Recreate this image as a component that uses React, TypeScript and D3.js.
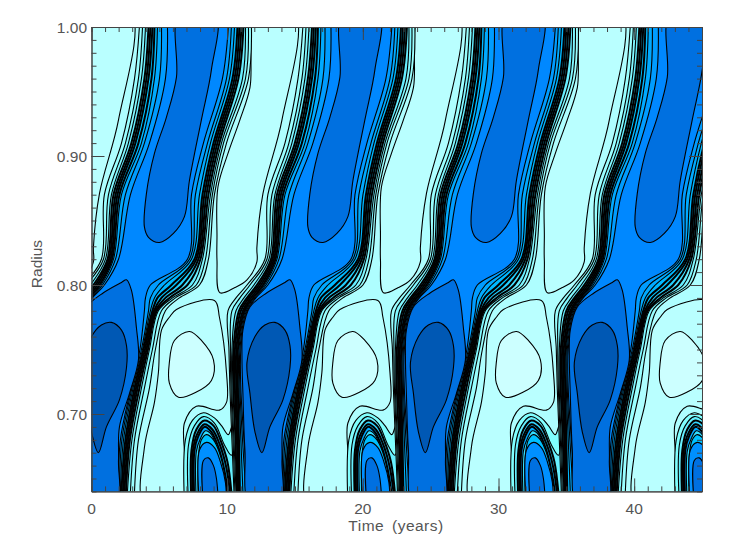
import React, { useEffect, useRef } from "react";
import * as d3 from "d3";

type Pt = [number, number];

// start of each 12-year cycle (years)
const cycleStarts = [-13.38, -1.33, 10.72, 22.77, 34.85];

const frontRadii = [0.64, 0.68, 0.72, 0.75, 0.78, 0.79, 0.8, 0.82, 0.87, 0.91, 0.96, 1.0];

// contour crossing times per radius (outermost level first), years after cycle start
const leftFront = [
  [-0.22, -0.15, -0.07, 0, 0.07, 0.15, 0.22, 0.44, 0.66, 0.81],
  [-0.37, -0.29, -0.22, -0.11, 0, 0.07, 0.15, 0.29, 0.41, 0.52],
  [-0.52, -0.44, -0.37, -0.26, -0.15, -0.04, 0.07, 0.15, 0.22, 0.29],
  [-0.59, -0.48, -0.37, -0.26, -0.15, -0.04, 0.07, 0.15, 0.22, 0.29],
  [-0.66, -0.37, -0.07, 0.15, 0.29, 0.44, 0.55, 0.63, 0.7, 0.77],
  [-0.07, 0.22, 0.52, 0.74, 0.88, 1.03, 1.18, 1.25, 1.33, 1.4],
  [0.74, 0.96, 1.25, 1.47, 1.62, 1.77, 1.92, 2.03, 2.14, 2.28],
  [2.06, 2.21, 2.36, 2.51, 2.62, 2.73, 2.84, 2.95, 3.1, 3.32],
  [2.28, 2.58, 2.8, 2.95, 3.1, 3.24, 3.39, 3.54, 3.83, 4.2],
  [3.54, 3.83, 4.05, 4.27, 4.42, 4.57, 4.79, 5.01, 5.23, 5.6],
  [4.5, 4.79, 5.01, 5.23, 5.38, 5.53, 5.75, 5.97, 6.34, 6.78],
  [4.86, 5.09, 5.31, 5.53, 5.67, 5.82, 5.97, 6.19, 6.49, 6.93],
];

const rightFront = [
  [4.5, 4.2, 3.98, 3.87, 3.76, 3.65, 3.54, 3.46, 3.39, 3.32],
  [4.79, 4.5, 4.31, 4.16, 4.05, 3.94, 3.83, 3.69, 3.57, 3.46],
  [5.6, 5.23, 5.01, 4.86, 4.72, 4.61, 4.5, 4.39, 4.31, 4.24],
  [6.04, 5.82, 5.6, 5.49, 5.38, 5.27, 5.16, 5.09, 5.01, 4.9],
  [6.78, 6.49, 6.26, 6.15, 6.04, 5.93, 5.82, 5.67, 5.53, 5.23],
  [7.81, 7.52, 7.3, 7.08, 6.78, 6.49, 6.19, 5.97, 5.67, 5.31],
  [9.29, 9.06, 8.77, 8.4, 8.03, 7.59, 7.22, 6.71, 6.26, 5.67],
  [9.95, 9.73, 9.51, 9.36, 9.21, 9.06, 8.92, 8.7, 8.55, 8.4],
  [10.39, 10.24, 10.1, 9.95, 9.8, 9.65, 9.51, 9.29, 8.99, 8.7],
  [11.28, 11.06, 10.91, 10.76, 10.61, 10.46, 10.32, 10.1, 9.88, 9.58],
  [12.9, 12.68, 12.46, 12.16, 12.01, 11.87, 11.72, 11.5, 11.28, 10.98],
  [13.12, 12.9, 12.68, 12.53, 12.38, 12.23, 12.09, 11.87, 11.64, 11.42],
];

const levelFills = [
  "#99ffff", "#80f8ff", "#66eeff", "#44e0ff", "#22d0ff",
  "#00c4ff", "#00b8ff", "#00aaff", "#009cff", "#0088ff",
];

// closed contours as [years after cycle start, radius]
const paleTongue: Pt[] = [
  [1.47, 1.01], [0.96, 0.953], [0.22, 0.928], [-0.66, 0.902], [-1.4, 0.876], [-1.47, 0.837],
  [-1.47, 0.819], [-1.25, 0.794], [-0.15, 0.798], [0.74, 0.804], [1.47, 0.818], [1.47, 0.829],
  [1.92, 0.871], [3.32, 0.928], [4.27, 1.01],
];
const paleCell: Pt[] = [
  [5.23, 0.63], [5.23, 0.674], [5.97, 0.709], [6.26, 0.732], [6.49, 0.765], [7.07, 0.775],
  [7.59, 0.781], [10.39, 0.788], [10.76, 0.775], [11.28, 0.732], [11.28, 0.709], [10.76, 0.703],
  [9.06, 0.706], [8.18, 0.693], [8.11, 0.63],
];
const paleCore: Pt[] = [
  [8.55, 0.764], [9.43, 0.757], [10.32, 0.742], [10.17, 0.726], [9.06, 0.717],
  [7.74, 0.713], [7.07, 0.724], [7.07, 0.74], [7.44, 0.757],
];
const upperTongue: Pt[] = [
  [7.81, 1.01], [7.59, 0.961], [6.85, 0.93], [5.97, 0.902], [5.38, 0.871], [5.23, 0.845], [5.53, 0.837],
  [6.34, 0.833], [7.37, 0.84], [8.18, 0.853], [8.55, 0.881], [9.43, 0.928], [10.17, 0.967], [10.46, 1.01],
];
const lowerCell: Pt[] = [
  [0.96, 0.63], [0.59, 0.672], [0.44, 0.716], [0.37, 0.744], [0.44, 0.765], [0.96, 0.783], [2.21, 0.794],
  [3.54, 0.802], [3.91, 0.804], [4.27, 0.796], [4.64, 0.767], [4.79, 0.742], [4.13, 0.716], [3.39, 0.69],
  [3.32, 0.664], [3.17, 0.63],
];
const lowerCore: Pt[] = [
  [2.8, 0.771], [3.54, 0.765], [3.91, 0.753], [3.91, 0.736], [3.39, 0.711], [2.43, 0.69],
  [1.84, 0.67], [1.33, 0.686], [0.96, 0.716], [0.74, 0.74], [1.33, 0.76], [2.06, 0.769],
];

// nested arches of the dome at the bottom, outermost first
const domeArches: Pt[][] = [
  [[8.18, 0.63], [8.25, 0.68], [8.77, 0.695], [9.58, 0.701], [10.39, 0.697], [10.91, 0.691], [11.42, 0.684], [11.72, 0.691], [12.01, 0.68], [12.01, 0.63]],
  [[8.48, 0.63], [8.48, 0.676], [8.92, 0.691], [9.58, 0.698], [10.39, 0.693], [11.13, 0.676], [11.64, 0.668], [11.94, 0.676], [12.01, 0.63]],
  [[8.7, 0.63], [8.7, 0.672], [9.06, 0.688], [9.65, 0.695], [10.32, 0.691], [10.83, 0.68], [11.35, 0.663], [11.72, 0.63]],
  [[8.81, 0.63], [8.81, 0.672], [9.14, 0.685], [9.65, 0.692], [10.24, 0.688], [10.76, 0.677], [11.28, 0.658], [11.64, 0.63]],
  [[8.92, 0.63], [8.92, 0.672], [9.21, 0.683], [9.65, 0.69], [10.17, 0.686], [10.69, 0.674], [11.13, 0.656], [11.5, 0.63]],
  [[9.06, 0.63], [9.06, 0.671], [9.36, 0.681], [9.73, 0.687], [10.17, 0.684], [10.61, 0.672], [11.06, 0.655], [11.42, 0.63]],
  [[9.21, 0.63], [9.21, 0.668], [9.43, 0.68], [9.8, 0.684], [10.32, 0.68], [10.76, 0.67], [11.13, 0.654], [11.35, 0.63]],
  [[9.29, 0.63], [9.29, 0.672], [9.8, 0.678], [10.39, 0.674], [10.83, 0.663], [11.2, 0.647], [11.28, 0.63]],
  [[9.58, 0.63], [9.58, 0.664], [9.95, 0.666], [10.32, 0.66], [10.54, 0.65], [10.69, 0.63]],
];
const domeFills = [
  "#80ffff", "#66f0ff", "#33d5ff", "#00bbff", "#00a8ff",
  "#33ddff", "#00c0ff", "#0090ff", "#0070e0",
];

const yMajor = [0.7, 0.8, 0.9, 1.0];
const yMinor = d3.range(64, 101).map((d) => d / 100);
const xMajor = [0, 10, 20, 30, 40];
const xMinor = d3.range(0, 46);

export default function App() {
  const ref = useRef<SVGSVGElement>(null);

  useEffect(() => {
    const svg = d3.select(ref.current);
    svg.selectAll("*").remove();

    const x = d3.scaleLinear().domain([0, 45]).range([91.5, 702]);
    const y = d3.scaleLinear().domain([0.64, 1]).range([491.4, 27]);
    const lineColor = "#000";
    const axisColor = "#444";

    svg.append("defs").append("clipPath").attr("id", "plot")
      .append("rect").attr("x", 91.5).attr("y", 27).attr("width", 610.5).attr("height", 464.4);

    const plot = svg.append("g").attr("clip-path", "url(#plot)");
    plot.append("rect").attr("x", 91.5).attr("y", 27).attr("width", 610.5).attr("height", 464.4).attr("fill", "#aefeff");

    const shape = (pts: Pt[], start: number, closedCurve: boolean) =>
      d3.line<Pt>()
        .x((d) => x(d[0] + start))
        .y((d) => y(d[1]))
        .curve(closedCurve ? d3.curveCatmullRomClosed : d3.curveCatmullRom)(pts) as string;

    const drawClosed = (pts: Pt[], fill: string) => {
      cycleStarts.forEach((s) => {
        plot.append("path").attr("d", shape(pts, s, true)).attr("fill", fill)
          .attr("stroke", lineColor).attr("stroke-width", 1.1);
      });
    };

    drawClosed(paleTongue, "#b9ffff");
    drawClosed(paleCell, "#b9ffff");
    drawClosed(paleCore, "#ccffff");

    domeArches.forEach((arch, i) => {
      cycleStarts.forEach((s) => {
        plot.append("path").attr("d", shape(arch, s, false) + "Z").attr("fill", domeFills[i])
          .attr("stroke", lineColor).attr("stroke-width", i >= 2 && i <= 4 ? 2 : 1.1);
      });
    });

    // filled bands between the left and right front of each level
    levelFills.forEach((fill, k) => {
      const left: Pt[] = frontRadii.map((r, i) => [leftFront[i][k], r]);
      const right: Pt[] = frontRadii.map((r, i) => [rightFront[i][k], r]);
      const width = k >= 3 && k <= 6 ? 2 : 1.1; // the packed lines read as a black band
      cycleStarts.forEach((s) => {
        const a = shape(left, s, false);
        const b = shape([...right].reverse(), s, false);
        plot.append("path").attr("d", a + "L" + b.slice(1) + "Z").attr("fill", fill);
        plot.append("path").attr("d", a).attr("fill", "none").attr("stroke", lineColor).attr("stroke-width", width);
        plot.append("path").attr("d", b).attr("fill", "none").attr("stroke", lineColor).attr("stroke-width", width);
      });
    });

    drawClosed(lowerCell, "#0070e0");
    drawClosed(lowerCore, "#0058b4");
    drawClosed(upperTongue, "#0070e0");

    // frame and ticks
    const styleAxis = (g: any) => {
      g.selectAll("path,line").attr("stroke", axisColor);
      g.selectAll("text").remove();
    };
    const axes: [any, string, number[], number][] = [
      [d3.axisBottom(x), `translate(0,${y(0.64)})`, xMinor, -5],
      [d3.axisBottom(x), `translate(0,${y(0.64)})`, xMajor, -13],
      [d3.axisTop(x), `translate(0,${y(1)})`, xMinor, -5],
      [d3.axisTop(x), `translate(0,${y(1)})`, xMajor, -13],
      [d3.axisLeft(y), `translate(${x(0)},0)`, yMinor, -5],
      [d3.axisLeft(y), `translate(${x(0)},0)`, yMajor, -13],
      [d3.axisRight(y), `translate(${x(45)},0)`, yMinor, -5],
      [d3.axisRight(y), `translate(${x(45)},0)`, yMajor, -13],
    ];
    axes.forEach(([axis, tr, vals, size]) => {
      svg.append("g").attr("transform", tr)
        .call(axis.tickValues(vals).tickSize(size).tickSizeOuter(0))
        .call(styleAxis);
    });

    const label = (t: string, px: number, py: number, anchor: string) =>
      svg.append("text").attr("x", px).attr("y", py).attr("text-anchor", anchor)
        .attr("font-family", "Liberation Sans").attr("font-size", 15.5).attr("fill", "#555").text(t);

    xMajor.forEach((d) => label(String(d), x(d), 514, "middle"));
    yMajor.forEach((d) => label(d.toFixed(2), 87, y(d) + 5.5, "end"));
    label("Time (years)", 396, 531, "middle").attr("word-spacing", 3).attr("letter-spacing", 0.5);
    label("Radius", 0, 0, "middle").attr("transform", "translate(42,264) rotate(-90)");
  }, []);

  return <svg ref={ref} width={729} height={547} style={{ position: "absolute", left: 0, top: 0 }} />;
}
